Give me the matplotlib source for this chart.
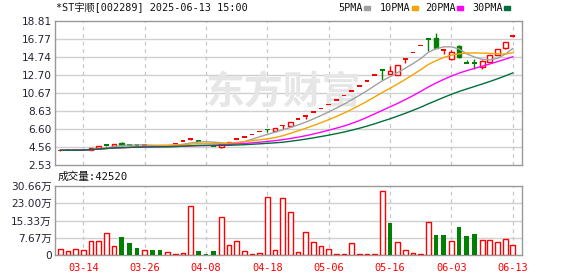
import matplotlib
matplotlib.use("Agg")
import matplotlib.pyplot as plt
import pandas as pd

# daily candles, *ST宇顺, 60 sessions ending 2025-06-13
opens = [4.18, 4.22, 4.20, 4.21, 4.24, 4.48, 4.80, 4.70, 5.05, 4.82,
         4.80, 4.76, 4.76, 4.72, 4.70, 4.97, 5.22, 5.46, 5.22, 4.96,
         4.71, 4.62, 4.87, 5.44, 5.71, 6.00, 6.30, 6.60, 6.35, 6.96,
         6.97, 7.72, 8.05, 8.52, 8.94, 9.39, 9.86, 10.40, 10.92, 11.46,
         12.04, 12.70, 13.34, 12.80, 12.70, 14.45, 15.26, 16.02, 16.85, 16.85,
         15.50, 14.48, 16.03, 14.10, 14.08, 13.64, 14.21, 14.97, 15.72, 17.05]
highs = [4.22, 4.23, 4.24, 4.26, 4.46, 4.70, 4.86, 4.92, 5.10, 4.88,
         4.84, 4.82, 4.80, 4.76, 4.74, 4.97, 5.22, 5.48, 5.22, 4.96,
         4.71, 4.90, 5.18, 5.44, 5.71, 6.00, 6.30, 6.60, 6.70, 7.01,
         7.36, 7.72, 8.11, 8.52, 8.94, 9.39, 9.86, 10.40, 10.92, 11.46,
         12.04, 12.70, 13.34, 13.70, 13.84, 14.53, 15.26, 16.02, 16.85, 17.42,
         15.61, 15.53, 16.10, 14.40, 14.48, 14.35, 14.97, 15.65, 16.40, 17.21]
lows = [4.10, 4.18, 4.18, 4.18, 4.22, 4.46, 4.72, 4.68, 4.72, 4.74,
        4.74, 4.70, 4.70, 4.66, 4.70, 4.97, 5.22, 5.30, 5.21, 4.95,
        4.70, 4.47, 4.80, 5.44, 5.71, 6.00, 6.30, 6.30, 6.33, 6.58,
        6.83, 7.72, 7.75, 8.52, 8.94, 9.39, 9.86, 10.40, 10.92, 11.46,
        12.04, 12.70, 12.14, 12.78, 12.68, 14.05, 15.26, 16.02, 15.45, 15.75,
        15.05, 14.45, 14.60, 14.03, 13.35, 13.35, 14.15, 14.95, 15.70, 17.00]
closes = [4.20, 4.20, 4.23, 4.24, 4.45, 4.67, 4.78, 4.90, 4.75, 4.80,
          4.78, 4.78, 4.73, 4.70, 4.73, 4.97, 5.22, 5.48, 5.21, 4.95,
          4.70, 4.85, 5.18, 5.44, 5.71, 6.00, 6.30, 6.52, 6.68, 7.01,
          7.36, 7.72, 8.11, 8.52, 8.94, 9.39, 9.86, 10.40, 10.92, 11.46,
          12.04, 12.70, 13.20, 13.16, 13.84, 14.53, 15.26, 16.02, 16.75, 15.80,
          15.61, 15.27, 14.77, 14.03, 14.00, 14.32, 14.97, 15.61, 16.39, 17.21]

# volume in 万 (10k lots), bar colour flags as drawn
volumes = [2.5, 1.6, 2.5, 2.1, 6.2, 6.2, 9.6, 3.9, 7.8, 5.3,
           3.1, 2.1, 2.2, 2.2, 1.2, 0.4, 0.9, 21.6, 1.8, 0.4,
           1.8, 16.7, 4.3, 6.1, 1.6, 0.4, 0.7, 25.6, 2.1, 25.3,
           19.0, 1.2, 10.1, 5.8, 3.9, 2.5, 0.3, 0.3, 5.2, 0.3,
           0.3, 0.3, 28.3, 14.2, 5.8, 2.1, 0.9, 0.3, 14.5, 8.9,
           8.9, 6.2, 12.4, 8.4, 9.3, 6.5, 6.5, 5.8, 7.0, 4.252]
vol_up = "rrrrrrrrgggrggrrrrgggrrrrrrrrrrrrrrrrrrrrrrgrrrrrggrgggrrrrr"

date_ticks = ["03-14", "03-26", "04-08", "04-18", "05-06", "05-16", "06-03", "06-13"]
price_ticks = ["2.53", "4.56", "6.60", "8.63", "10.67", "12.70", "14.74", "16.77", "18.81"]
vol_ticks = ["0", "7.67万", "15.33万", "23.00万", "30.66万"]

ma_periods = [5, 10, 20, 30]
ma_colors = ["#a0a0a0", "#f4a300", "#ff00ff", "#006f3c"]

RED = "#ff0000"
GREEN = "#008000"
W, H = 578, 276
CJK = ["DejaVu Sans", "Noto Sans CJK SC"]
MONO = ["DejaVu Sans Mono", "Noto Sans CJK SC"]


def box(x0, y0, x1, y1):
    # pixel box (from top-left) -> figure rect
    return [x0 / W, 1 - y1 / H, (x1 - x0) / W, (y1 - y0) / H]


def fxy(x, y):
    return x / W, 1 - y / H


def style(ax):
    for s in ax.spines.values():
        s.set_color("#999999")
        s.set_linewidth(1.0)
    ax.tick_params(length=0)
    ax.set_facecolor("white")


fig = plt.figure(figsize=(W / 100, H / 100), dpi=100)
ax = fig.add_axes(box(55, 21, 522, 165))
axv = fig.add_axes(box(55, 186, 522, 255))
style(ax)
style(axv)

n = len(closes)
idx = list(range(n))
xt = [3 + 8 * k for k in range(len(date_ticks))]
pt = [float(p) for p in price_ticks]
vt = [0, 7.67, 15.33, 23.00, 30.66]

# grid
for y in pt[1:-1]:
    ax.axhline(y, color="#d0d0d0", lw=1.0, zorder=0)
for y in vt[1:-1]:
    axv.axhline(y, color="#d0d0d0", lw=1.0, zorder=0)
for x in xt:
    ax.axvline(x, color="#c8c8c8", lw=0.9, ls=(0, (3, 3)), zorder=0)
    axv.axvline(x, color="#c8c8c8", lw=0.9, ls=(0, (3, 3)), zorder=0)

# watermark
ax.text(0.49, 0.5, "东方财富", transform=ax.transAxes, ha="center", va="center",
        fontsize=28, fontweight="bold", fontstyle="italic", color="#e6e6e6",
        family=CJK, zorder=0)

# candles
bw = 0.62
for i in idx:
    o, h, l, c = opens[i], highs[i], lows[i], closes[i]
    up = c >= o
    col = RED if up else GREEN
    ax.vlines(i, l, h, color=col, lw=1.0, zorder=2)
    lo = min(o, c)
    hgt = abs(c - o)
    if hgt < 0.18:
        ax.bar(i, 0.18, bottom=(o + c) / 2 - 0.09, width=bw, color=col, lw=0, zorder=3)
    else:
        ax.bar(i, hgt, bottom=lo, width=bw, facecolor="white" if up else col,
               edgecolor=col, lw=1.0, zorder=3)

# moving averages
cs = pd.Series(closes)
for p, colr in zip(ma_periods, ma_colors):
    ax.plot(idx, cs.rolling(p, min_periods=1).mean(), color=colr, lw=1.0, zorder=4)

ax.set_xlim(-0.7, 60.2)
ax.set_ylim(pt[0], pt[-1])
ax.set_yticks(pt)
ax.set_yticklabels(price_ticks, fontsize=7.6, color="#222233")
ax.set_xticks([])
ax.tick_params(axis="y", pad=2.5)

# volume
for i in idx:
    v = volumes[i]
    if vol_up[i] == "r":
        axv.bar(i, max(v, 0.15), width=bw, facecolor="white", edgecolor=RED, lw=1.0, zorder=3)
    else:
        axv.bar(i, v, width=bw, color=GREEN, lw=0, zorder=3)
axv.set_xlim(-0.7, 60.2)
axv.set_ylim(0, 30.66)
axv.set_yticks(vt)
axv.set_yticklabels(vol_ticks, fontsize=7.6, color="#222233", family=CJK)
axv.tick_params(axis="y", pad=2.5)
axv.set_xticks(xt)
axv.set_xticklabels(date_ticks, fontsize=7.4, color=RED, family=MONO)
axv.tick_params(axis="x", pad=6)

# header texts
fig.text(*fxy(56, 8), "*ST宇顺[002289] 2025-06-13 15:00", fontsize=7.3,
         family=MONO, va="center", ha="left", color="#111111")
fig.text(*fxy(58, 177), "成交量:" + str(int(round(volumes[-1] * 10000))), fontsize=7.7,
         family=MONO, va="center", ha="left", color="#111111")

leg_x = [338, 380, 425, 472]
for k, (p, colr) in enumerate(zip(ma_periods, ma_colors)):
    fig.text(*fxy(leg_x[k], 8), f"{p}PMA", fontsize=7.3, family=MONO,
             va="center", ha="left", color="#111111")
    sq_x = leg_x[k] + (26 if p < 10 else 32)
    fig.patches.append(plt.Rectangle(fxy(sq_x, 10), 6 / W, 4 / H, color=colr,
                                     transform=fig.transFigure, figure=fig))

fig.savefig("out.png", dpi=100)
